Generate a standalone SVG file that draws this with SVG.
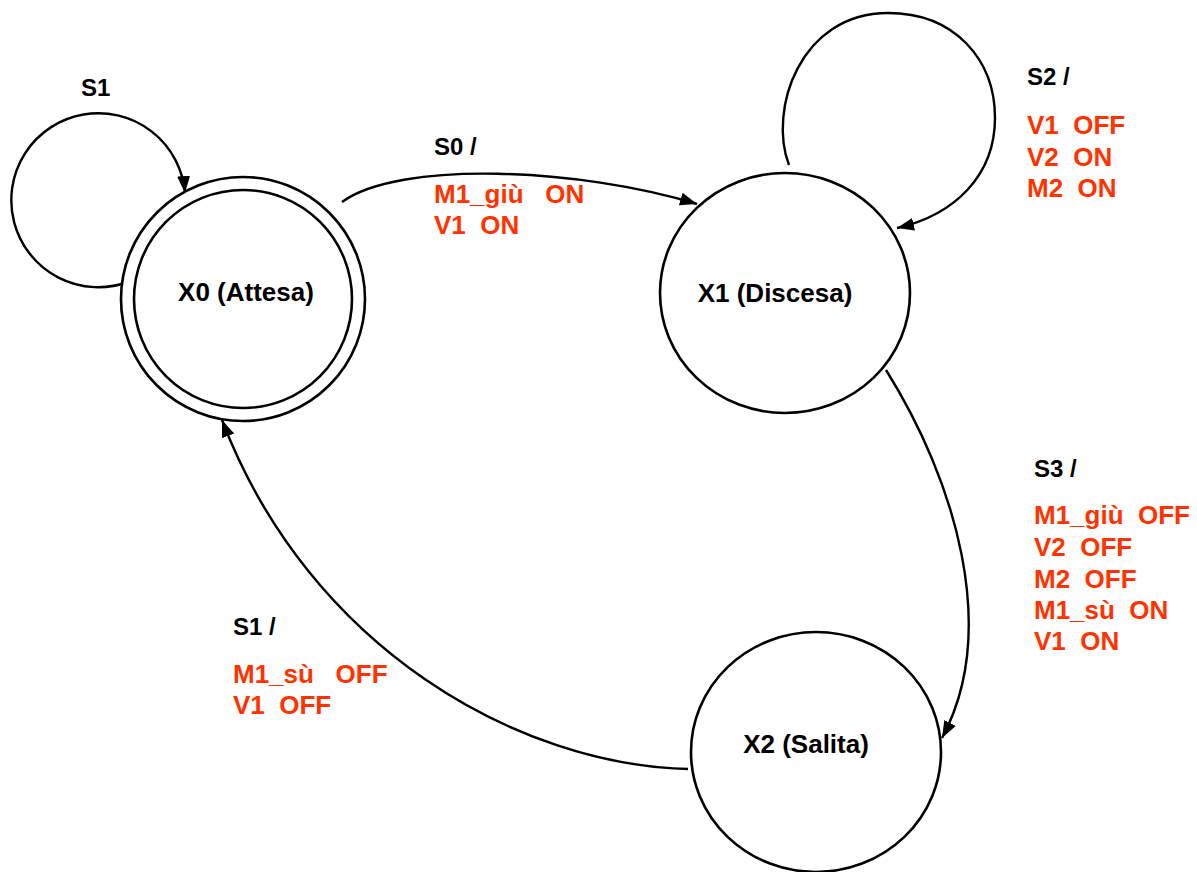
<svg xmlns="http://www.w3.org/2000/svg" width="1197" height="872" viewBox="0 0 1197 872">
  <style>
    .state { fill: #ffffff; stroke: #000000; stroke-width: 2.6; }
    .edge { fill: none; stroke: #000000; stroke-width: 2.4; }
    .name { font-family: "Liberation Sans", Arial, sans-serif; font-weight: bold; font-size: 26px; fill: #000000; text-anchor: middle; }
    .cond { font-family: "Liberation Sans", Arial, sans-serif; font-weight: bold; font-size: 24px; fill: #000000; }
    .act { font-family: "Liberation Sans", Arial, sans-serif; font-weight: bold; font-size: 26px; fill: #FF3300; white-space: pre; }
  </style>
  <defs>
    <marker id="arrow" markerUnits="userSpaceOnUse" markerWidth="19" markerHeight="14" refX="17" refY="6.5" orient="auto">
      <path d="M0,0 L17,6.5 L0,13 z" fill="#000000"/>
    </marker>
  </defs>

  <!-- transitions -->
  <g id="connectors">
    <!-- X0 self loop (S1) -->
    <path class="edge" d="M 128 282 A 87 87 0 1 1 185 193" marker-end="url(#arrow)"/>
    <!-- X0 -> X1 (S0) -->
    <path class="edge" d="M 342 202 C 400 160, 580 168, 697 204" marker-end="url(#arrow)"/>
    <!-- X1 self loop (S2) -->
    <path class="edge" d="M 789 165 C 768 110, 800 13, 888 13 C 955 13, 995 60, 995 118 C 995 175, 955 215, 897 228" marker-end="url(#arrow)"/>
    <!-- X1 -> X2 (S3) -->
    <path class="edge" d="M 886 370 C 955 480, 1000 630, 942 738" marker-end="url(#arrow)"/>
    <!-- X2 -> X0 (S1) -->
    <path class="edge" d="M 688 769 C 520 765, 310 650, 222 420" marker-end="url(#arrow)"/>
  </g>

  <g id="X0">
    <circle class="state" cx="243" cy="299" r="122"/>
    <circle class="state" cx="243" cy="299" r="109"/>
    <text class="name" x="246" y="301">X0 (Attesa)</text>
  </g>

  <g id="X1">
    <ellipse class="state" cx="785" cy="293" rx="125" ry="120"/>
    <text class="name" x="775" y="302">X1 (Discesa)</text>
  </g>

  <g id="X2">
    <ellipse class="state" cx="816" cy="752" rx="125" ry="120"/>
    <text class="name" x="806" y="753">X2 (Salita)</text>
  </g>

  <!-- transition labels -->
  <g id="label-S1-loop">
    <text class="cond" x="81" y="96">S1</text>
  </g>

  <g id="label-S0">
    <text class="cond" x="434" y="155">S0 /</text>
    <text class="act" x="434" y="203" xml:space="preserve">M1_giù   ON</text>
    <text class="act" x="434" y="234" xml:space="preserve">V1  ON</text>
  </g>

  <g id="label-S2">
    <text class="cond" x="1027" y="85">S2 /</text>
    <text class="act" x="1027" y="134" xml:space="preserve">V1  OFF</text>
    <text class="act" x="1027" y="166" xml:space="preserve">V2  ON</text>
    <text class="act" x="1027" y="197" xml:space="preserve">M2  ON</text>
  </g>

  <g id="label-S3">
    <text class="cond" x="1034" y="477">S3 /</text>
    <text class="act" x="1034" y="524" xml:space="preserve">M1_giù  OFF</text>
    <text class="act" x="1034" y="556" xml:space="preserve">V2  OFF</text>
    <text class="act" x="1034" y="588" xml:space="preserve">M2  OFF</text>
    <text class="act" x="1034" y="619" xml:space="preserve">M1_sù  ON</text>
    <text class="act" x="1034" y="650" xml:space="preserve">V1  ON</text>
  </g>

  <g id="label-S1">
    <text class="cond" x="233" y="635">S1 /</text>
    <text class="act" x="233" y="683" xml:space="preserve">M1_sù   OFF</text>
    <text class="act" x="233" y="714" xml:space="preserve">V1  OFF</text>
  </g>
</svg>
